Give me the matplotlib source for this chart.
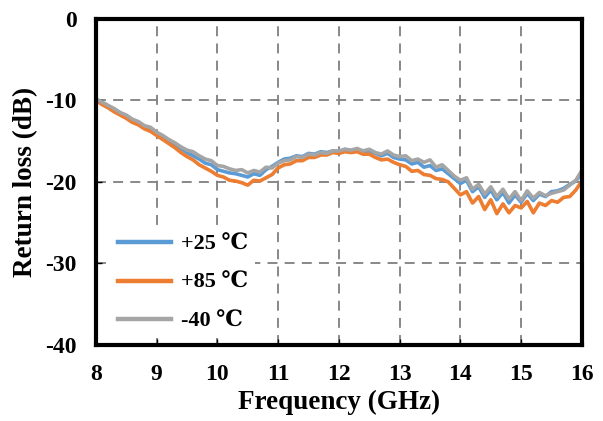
import numpy as np
from matplotlib import pyplot as plt

freq = np.round(np.arange(8.0, 16.0001, 0.1), 1)

rl_25 = [-9.9, -10.3, -10.7, -11.1, -11.5, -11.9, -12.4, -12.7, -13.2, -13.5,
         -14.0, -14.4, -14.9, -15.4, -15.9, -16.4, -16.8, -17.2, -17.7, -17.9,
         -18.5, -18.7, -18.9, -19.0, -19.2, -19.4, -19.0, -19.2, -18.5, -18.1,
         -17.6, -17.2, -17.1, -16.8, -16.9, -16.5, -16.6, -16.3, -16.4, -16.2,
         -16.3, -16.0, -16.2, -16.1, -16.3, -16.2, -16.5, -16.8, -16.5, -17.0,
         -17.2, -17.3, -17.8, -17.6, -18.2, -18.0, -18.6, -18.4, -19.0, -19.6,
         -20.2, -19.8, -21.2, -20.6, -21.9, -21.0, -22.2, -21.3, -22.6, -21.6,
         -22.5, -21.4, -22.3, -21.5, -21.8, -21.2, -21.1, -20.8, -20.3, -19.9,
         -18.9]

rl_85 = [-10.0, -10.5, -10.9, -11.4, -11.8, -12.2, -12.7, -13.0, -13.5, -13.8,
         -14.3, -14.8, -15.3, -15.8, -16.4, -16.9, -17.3, -17.9, -18.3, -18.7,
         -19.2, -19.4, -19.8, -19.9, -20.1, -20.4, -19.8, -19.9, -19.5, -19.1,
         -18.3, -17.9, -17.8, -17.4, -17.4, -17.0, -17.0, -16.7, -16.7, -16.4,
         -16.5, -16.3, -16.4, -16.3, -16.6, -16.6, -17.0, -17.3, -17.2, -17.6,
         -17.9, -18.1, -18.7, -18.6, -19.1, -19.2, -19.6, -19.7, -20.0, -20.8,
         -21.6, -21.2, -22.6, -21.8, -23.4, -22.2, -23.9, -22.7, -23.8, -22.9,
         -23.2, -22.4, -23.8, -22.6, -22.9, -22.3, -22.5, -21.9, -21.8, -21.0,
         -19.9]

rl_m40 = [-9.8, -10.2, -10.6, -11.0, -11.5, -11.8, -12.3, -12.6, -13.1, -13.3,
          -13.9, -14.3, -14.8, -15.2, -15.7, -16.1, -16.3, -16.8, -17.2, -17.4,
          -18.0, -18.1, -18.4, -18.6, -18.5, -18.9, -18.6, -18.8, -18.2, -18.3,
          -17.7, -17.4, -17.3, -16.9, -17.0, -16.6, -16.7, -16.4, -16.5, -16.2,
          -16.2, -16.0, -16.1, -15.9, -16.2, -16.0, -16.4, -16.6, -16.2, -16.7,
          -16.9, -16.8, -17.4, -17.2, -17.6, -17.3, -18.2, -17.9, -18.6, -19.3,
          -19.8, -19.5, -20.9, -20.3, -21.5, -20.6, -21.8, -20.9, -22.1, -21.2,
          -22.3, -21.1, -22.0, -21.3, -21.7, -21.4, -21.2, -21.0, -20.4, -19.8,
          -18.6]

labels = ["+25 \u2103", "+85 \u2103", "-40 \u2103"]
colors = ["#5B9BD5", "#ED7D31", "#A5A5A5"]

plt.rcParams['font.family'] = ['Liberation Serif', 'DejaVu Serif']
plt.rcParams['font.weight'] = 'bold'
plt.rcParams['axes.unicode_minus'] = False

fig = plt.figure(figsize=(6.03, 4.21), dpi=100)
ax = fig.add_axes([0.159, 0.181, 0.806, 0.774])

for y, label, color in zip([rl_25, rl_85, rl_m40], labels, colors):
    ax.plot(freq, y, label=label, color=color, linewidth=2.6)

ax.set_xlim(8, 16)
ax.set_ylim(-40, 0)
ax.set_xticks(range(8, 17))
ax.set_yticks(range(-40, 1, 10))

# siatka przerywana pod wykresem
ax.grid(True, color='#7F7F7F', linestyle=(0, (5.5, 4)), linewidth=1.3)
ax.set_axisbelow(True)

for s in ax.spines.values():
    s.set_linewidth(3)
ax.tick_params(direction='in', length=4, width=1, labelsize=17)
ax.tick_params(axis='x', pad=14)
ax.tick_params(axis='y', pad=14)
for t in ax.get_xticklabels() + ax.get_yticklabels():
    t.set_fontweight('bold')

ax.set_xlabel("Frequency (GHz)", fontsize=19.5, fontweight='bold', labelpad=3)
ax.set_ylabel("Return loss (dB)", fontsize=19.5, fontweight='bold', labelpad=5)

leg = ax.legend(loc='lower left', bbox_to_anchor=(0.031, 0.02), fontsize=16,
                handlelength=2.4, labelspacing=0.8, handletextpad=0.45,
                frameon=True, framealpha=1, edgecolor='none', fancybox=False,
                borderpad=0.3, borderaxespad=0)
for line in leg.get_lines():
    line.set_linewidth(3.2)

fig.savefig("out.png", dpi=100)
plt.close(fig)
